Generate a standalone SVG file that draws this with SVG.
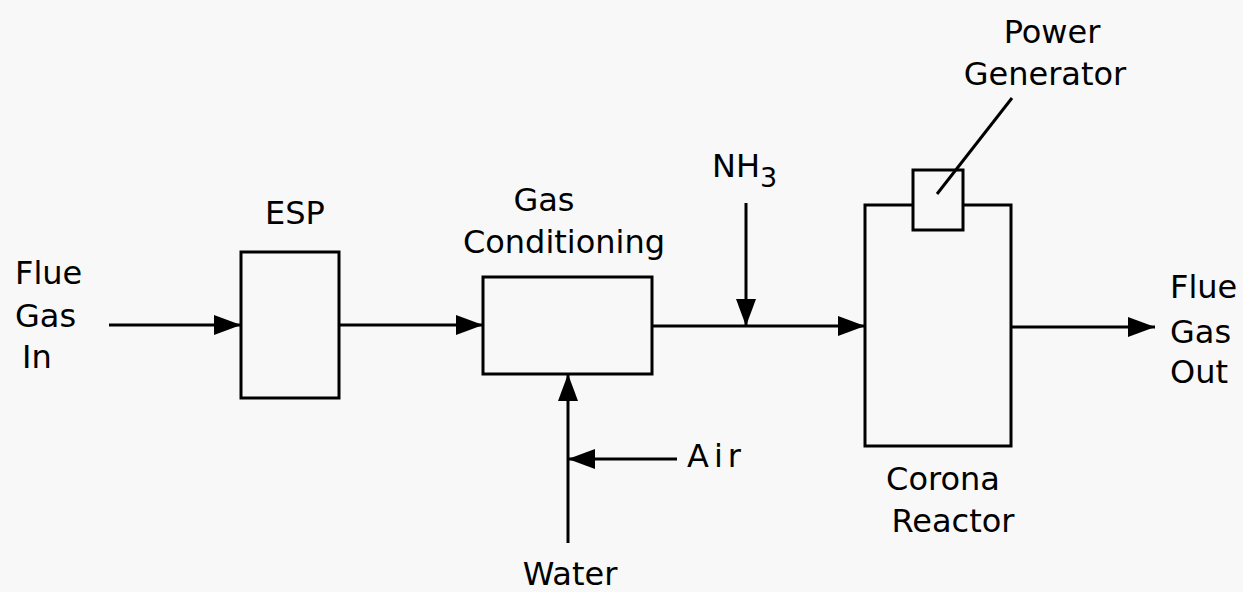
<svg xmlns="http://www.w3.org/2000/svg" width="1243" height="592" viewBox="0 0 1243 592">
<style>
.box{fill:#f7f8f7;stroke:#000;stroke-width:3}
.ln{fill:none;stroke:#000;stroke-width:3}
.arr{marker-end:url(#ah)}
text{font-family:"DejaVu Sans",Verdana,sans-serif;font-size:32px;fill:#000}
.m{text-anchor:middle}
</style>
<defs>
<marker id="ah" markerUnits="userSpaceOnUse" markerWidth="28" markerHeight="22" refX="27" refY="10" orient="auto">
<path d="M0,0 L27,10 L0,20 Z" fill="#000"/>
</marker>
</defs>
<rect width="1243" height="592" fill="#f7f8f7"/>
<g id="connectors">
<line class="ln arr" x1="109" y1="325" x2="241" y2="325"/>
<line class="ln arr" x1="339" y1="325" x2="483" y2="325"/>
<line class="ln arr" x1="652" y1="326" x2="865" y2="326"/>
<line class="ln arr" x1="746" y1="203" x2="746" y2="326"/>
<line class="ln arr" x1="1011" y1="327" x2="1155" y2="327"/>
<line class="ln arr" x1="568" y1="543" x2="568" y2="374"/>
<line class="ln arr" x1="677" y1="459" x2="568" y2="459"/>
</g>
<g id="flue-gas-in">
<text x="15" y="284">Flue</text>
<text x="15" y="327">Gas</text>
<text x="22" y="368">In</text>
</g>
<g id="esp">
<rect class="box" x="241" y="252" width="98" height="146"/>
<text class="m" x="295" y="224">ESP</text>
</g>
<g id="gas-conditioning">
<rect class="box" x="483" y="277" width="169" height="97"/>
<text class="m" x="544" y="211">Gas</text>
<text class="m" x="564" y="253">Conditioning</text>
</g>
<g id="nh3">
<text x="712" y="177">NH<tspan font-size="27" dy="10">3</tspan></text>
</g>
<g id="air">
<text x="687" y="467" letter-spacing="5">Air</text>
</g>
<g id="water">
<text class="m" x="570" y="585">Water</text>
</g>
<g id="corona-reactor">
<rect class="box" x="865" y="205" width="146" height="241"/>
<text class="m" x="943" y="490">Corona</text>
<text class="m" x="953" y="532">Reactor</text>
</g>
<g id="power-generator">
<rect class="box" x="913" y="170" width="50" height="60"/>
<line class="ln" x1="1012" y1="98" x2="937" y2="194"/>
<text class="m" x="1052" y="43">Power</text>
<text class="m" x="1045" y="85">Generator</text>
</g>
<g id="flue-gas-out">
<text x="1170" y="298">Flue</text>
<text x="1170" y="343">Gas</text>
<text x="1170" y="383">Out</text>
</g>
</svg>
